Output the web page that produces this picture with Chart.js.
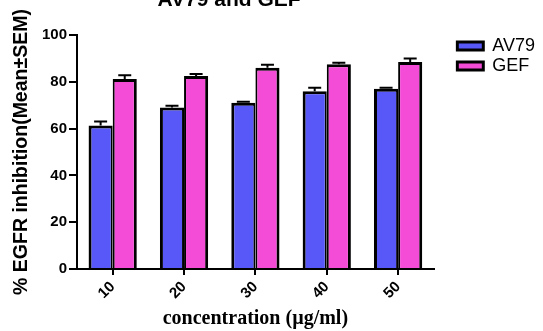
<!DOCTYPE html>
<html>
<head>
<meta charset="utf-8">
<script src="https://cdn.jsdelivr.net/npm/chart.js@4"></script>
<style>
  html, body { margin: 0; padding: 0; background: #fff; }
</style>
</head>
<body>
<canvas id="chart" width="543" height="331"></canvas>
<script>
// data
const concentrations = ['10', '20', '30', '40', '50'];
const av79Mean = [61.3, 69, 71, 76, 77];
const av79Sem = [1.7, 0.8, 0.5, 1.5, 0.5];
const gefMean = [81.2, 82.5, 86, 87.5, 88.5];
const gefSem = [1.6, 0.8, 1.3, 0.6, 1.5];
const yTicks = [0, 20, 40, 60, 80, 100];

Chart.defaults.font.family = '"Liberation Sans", Arial, sans-serif';
Chart.defaults.color = '#000';

// upper error bars (mean + SEM)
const errorBars = {
  id: 'errorBars',
  afterDatasetsDraw(chart) {
    const ctx = chart.ctx;
    const yScale = chart.scales.y;
    chart.data.datasets.forEach((ds, i) => {
      chart.getDatasetMeta(i).data.forEach((bar, j) => {
        const top = yScale.getPixelForValue(ds.data[j] + ds.sem[j]);
        ctx.save();
        ctx.strokeStyle = '#000';
        ctx.lineWidth = 2;
        ctx.beginPath();
        ctx.moveTo(bar.x, bar.y);
        ctx.lineTo(bar.x, top);
        ctx.moveTo(bar.x - 6.5, top);
        ctx.lineTo(bar.x + 6.5, top);
        ctx.stroke();
        ctx.restore();
      });
    });
  }
};

// title is cut off at the top edge in the original
const topTitle = {
  id: 'topTitle',
  afterDraw(chart) {
    const ctx = chart.ctx;
    ctx.save();
    ctx.font = 'bold 21px "Liberation Sans", Arial, sans-serif';
    ctx.textAlign = 'center';
    ctx.textBaseline = 'alphabetic';
    ctx.fillStyle = '#000';
    ctx.fillText('AV79 and GEF', 229, 6);
    ctx.restore();
  }
};

new Chart(document.getElementById('chart'), {
  type: 'bar',
  data: {
    labels: concentrations,
    datasets: [
      {
        label: 'AV79',
        data: av79Mean,
        sem: av79Sem,
        backgroundColor: '#5858F8',
        borderColor: '#000',
        borderWidth: { top: 3, left: 3, right: 2, bottom: 0 },
        categoryPercentage: 0.676,
        barPercentage: 1
      },
      {
        label: 'GEF',
        data: gefMean,
        sem: gefSem,
        backgroundColor: '#F44CD6',
        borderColor: '#000',
        borderWidth: { top: 3, left: 2, right: 3, bottom: 0 },
        categoryPercentage: 0.676,
        barPercentage: 1
      }
    ]
  },
  options: {
    responsive: false,
    animation: false,
    layout: { padding: { top: 35, left: 0, right: -2, bottom: 0 } },
    plugins: {
      tooltip: { enabled: false },
      legend: {
        position: 'right',
        align: 'start',
        labels: {
          color: '#000',
          font: { size: 18, lineHeight: 1.444 },
          boxWidth: 26,
          boxHeight: 8,
          padding: 2,
          generateLabels(chart) {
            return Chart.defaults.plugins.legend.labels.generateLabels(chart)
              .map(l => ({ ...l, lineWidth: 3, strokeStyle: '#000' }));
          }
        }
      }
    },
    scales: {
      x: {
        afterFit(s) { s.height = 62; },
        border: { color: '#000', width: 2 },
        grid: { offset: false, drawOnChartArea: false, color: '#000', lineWidth: 2, tickLength: 6 },
        ticks: { color: '#000', font: { size: 15, weight: 'bold' }, minRotation: 45, maxRotation: 45, padding: 3 },
        title: {
          display: true,
          text: 'concentration (µg/ml)',
          color: '#000',
          font: { family: '"Liberation Serif", "Times New Roman", serif', size: 20, weight: 'bold' },
          padding: { top: 0, bottom: 0 }
        }
      },
      y: {
        min: 0,
        max: 100,
        afterBuildTicks(s) { s.ticks = yTicks.map(v => ({ value: v })); },
        afterFit(s) { s.width = 77; },
        border: { color: '#000', width: 2 },
        grid: { drawOnChartArea: false, color: '#000', lineWidth: 2, tickLength: 8 },
        ticks: { color: '#000', font: { size: 15, weight: 'bold' }, padding: 2 },
        title: {
          display: true,
          text: '% EGFR inhibition(Mean±SEM)',
          color: '#000',
          font: { size: 19.5, weight: 'bold' },
          padding: { top: 10, bottom: 0 }
        }
      },
      // empty axis that only keeps a gap between plot and legend
      gap: {
        type: 'linear',
        position: 'right',
        grid: { display: false },
        border: { display: false },
        ticks: { display: false },
        afterFit(s) { s.width = 21.5; }
      }
    }
  },
  plugins: [errorBars, topTitle]
});
</script>
</body>
</html>
